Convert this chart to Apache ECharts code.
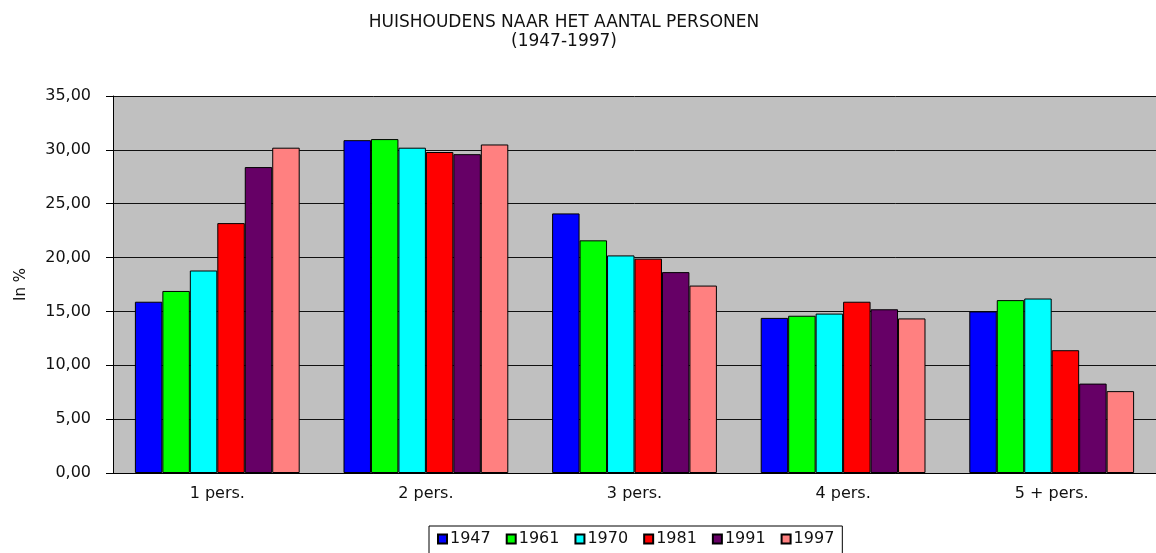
<!DOCTYPE html>
<html>
<head>
<meta charset="utf-8">
<script src="https://cdn.jsdelivr.net/npm/echarts@6/dist/echarts.min.js"></script>
<style>html,body{margin:0;padding:0;background:#fff;overflow:hidden}#c{width:1156px;height:553px}</style>
</head>
<body>
<div id="c"></div>
<script>
const categories = ['1 pers.', '2 pers.', '3 pers.', '4 pers.', '5 + pers.'];
const years = ['1947', '1961', '1970', '1981', '1991', '1997'];
const v1947 = [15.9, 30.9, 24.1, 14.4, 15.0];
const v1961 = [16.9, 31.0, 21.6, 14.6, 16.05];
const v1970 = [18.8, 30.2, 20.2, 14.8, 16.2];
const v1981 = [23.2, 29.8, 19.9, 15.9, 11.4];
const v1991 = [28.4, 29.6, 18.65, 15.2, 8.3];
const v1997 = [30.2, 30.5, 17.4, 14.35, 7.6];
const yTicks = [0, 5, 10, 15, 20, 25, 30, 35];

const values = [v1947, v1961, v1970, v1981, v1991, v1997];
const colors = ['#0000FF', '#00FF00', '#00FFFF', '#FF0000', '#660066', '#FF8080'];
const font = 'DejaVu Sans, Verdana, sans-serif';
const txt = '#111';

const chart = echarts.init(document.getElementById('c'));
chart.setOption({
  animation: false,
  backgroundColor: '#ffffff',
  title: {
    text: 'HUISHOUDENS NAAR HET AANTAL PERSONEN\n(1947-1997)',
    left: 559, textAlign: 'center', top: 8,
    textStyle: { fontFamily: font, fontSize: 17, fontWeight: 'normal', color: txt, lineHeight: 19 }
  },
  legend: {
    data: years,
    left: 429, top: 526,
    itemWidth: 9, itemHeight: 9, itemGap: 15,
    icon: 'rect',
    padding: [5, 8, 8, 8],
    backgroundColor: '#fff', borderColor: '#000', borderWidth: 1,
    textStyle: { fontFamily: font, fontSize: 16, color: txt, padding: [0, 0, 0, -2] }
  },
  grid: { left: 113, width: 1047, top: 96, bottom: 80, backgroundColor: '#C0C0C0', show: true, borderWidth: 0 },
  xAxis: {
    type: 'category', data: categories,
    axisLine: { lineStyle: { color: '#000', width: 1 } },
    axisTick: { show: false },
    axisLabel: { fontFamily: font, fontSize: 16, color: txt, margin: 13 }
  },
  yAxis: {
    type: 'value', min: yTicks[0], max: yTicks[yTicks.length - 1], interval: 5,
    name: 'In %', nameLocation: 'middle', nameRotate: 90, nameGap: 84,
    nameTextStyle: { fontFamily: font, fontSize: 15, color: txt },
    axisLine: { show: true, lineStyle: { color: '#000', width: 1 } },
    axisTick: { show: true, length: 7, lineStyle: { color: '#000' } },
    axisLabel: { fontFamily: font, fontSize: 16, color: txt, margin: 22,
      formatter: v => v.toFixed(2).replace('.', ',') },
    splitLine: { lineStyle: { color: '#111', width: 1 } }
  },
  series: years.map((y, i) => ({
    name: y, type: 'bar', data: values[i],
    barGap: '0%', barCategoryGap: '21%',
    itemStyle: { color: colors[i], borderColor: '#000', borderWidth: 1 }
  }))
});
</script>
</body>
</html>
